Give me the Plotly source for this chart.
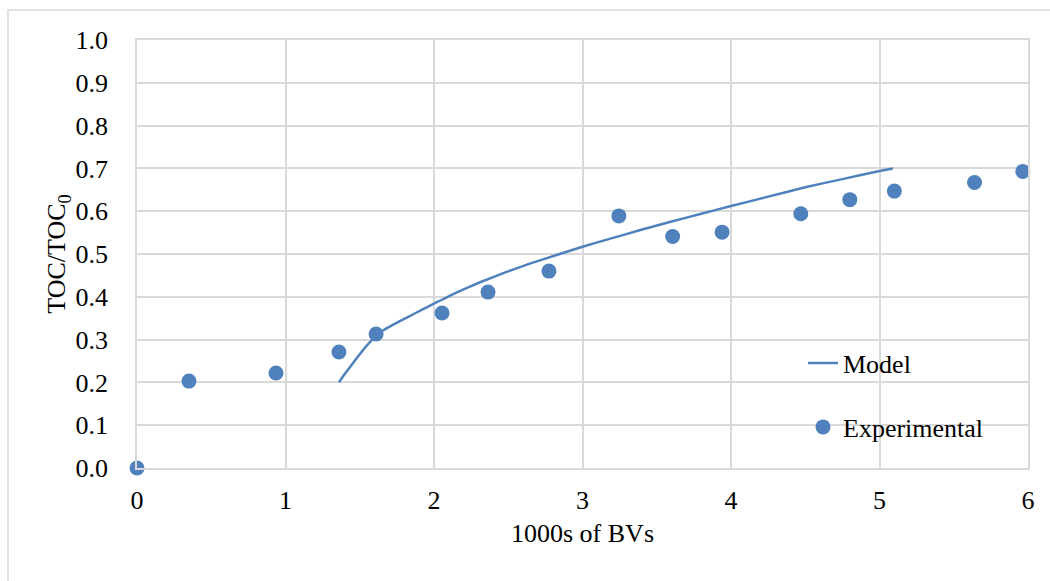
import plotly.graph_objects as go

# Experimental data
exp_x = [0.0, 0.35, 0.936, 1.36, 1.61, 2.054, 2.364, 2.774, 3.245, 3.607, 3.94, 4.47, 4.80, 5.10, 5.64, 5.965]
exp_y = [0.0, 0.203, 0.222, 0.271, 0.313, 0.362, 0.411, 0.460, 0.589, 0.541, 0.551, 0.594, 0.627, 0.647, 0.667, 0.693]

# Model curve
model_x = [1.36, 1.40, 1.45, 1.50, 1.55, 1.60, 1.65, 1.72, 1.82, 1.92, 2.0, 2.15, 2.31, 2.48, 2.65, 2.82,
           3.0, 3.2, 3.39, 3.6, 3.8, 4.0, 4.25, 4.5, 4.75, 5.0, 5.09]
model_y = [0.200, 0.220, 0.243, 0.266, 0.287, 0.305, 0.320, 0.334, 0.352, 0.370, 0.384, 0.410, 0.434, 0.457,
           0.478, 0.497, 0.517, 0.537, 0.556, 0.576, 0.594, 0.612, 0.634, 0.656, 0.675, 0.694, 0.700]

x_ticks = [0, 1, 2, 3, 4, 5, 6]
y_ticks = [0.0, 0.1, 0.2, 0.3, 0.4, 0.5, 0.6, 0.7, 0.8, 0.9, 1.0]

BLUE = "#4f81bd"
GRID = "#d9d9d9"
FONT = "Liberation Serif"
FS = 26

fig = go.Figure()
fig.add_trace(go.Scatter(
    x=model_x, y=model_y, mode="lines", name="Model",
    line=dict(color=BLUE, width=2.5, shape="spline", smoothing=0.3),
    legend="legend", showlegend=True,
))
fig.add_trace(go.Scatter(
    x=exp_x, y=exp_y, mode="markers", name="Experimental",
    marker=dict(color=BLUE, size=15),
    legend="legend2", showlegend=True, cliponaxis=False,
))

W, H = 1050, 581
L, R, T, B = 137, 22, 40, 113
pw, ph = W - L - R, H - T - B

def px_x(p):
    return (p - L) / pw

def px_y(p):
    return (H - B - p) / ph

fig.update_layout(
    width=W, height=H,
    margin=dict(l=L, r=R, t=T, b=B),
    paper_bgcolor="white", plot_bgcolor="white",
    showlegend=True,
    font=dict(family=FONT, size=FS, color="black"),
    xaxis=dict(
        range=[0, 6], tickvals=x_ticks, ticktext=[str(v) for v in x_ticks],
        showgrid=True, gridcolor=GRID, gridwidth=1.5,
        showline=True, linecolor=GRID, linewidth=1.5, mirror=True,
        zeroline=False, ticks="", ticklabelstandoff=8,
        title=dict(text="1000s of BVs", font=dict(size=FS), standoff=10),
        tickfont=dict(size=FS),
    ),
    yaxis=dict(
        range=[0, 1.0], tickvals=y_ticks, ticktext=[f"{v:.1f}" for v in y_ticks],
        showgrid=True, gridcolor=GRID, gridwidth=1.5,
        showline=True, linecolor=GRID, linewidth=1.5, mirror=True,
        zeroline=False, ticks="", ticklabelstandoff=22,
        title=dict(text="TOC/TOC<sub>0</sub>", font=dict(size=FS), standoff=2),
        tickfont=dict(size=FS),
    ),
    legend=dict(
        x=px_x(803), y=px_y(363), xanchor="left", yanchor="middle",
        bgcolor="rgba(0,0,0,0)", font=dict(size=FS),
    ),
    legend2=dict(
        x=px_x(803), y=px_y(427), xanchor="left", yanchor="middle",
        bgcolor="rgba(0,0,0,0)", font=dict(size=FS),
    ),
    shapes=[dict(
        type="rect", xref="paper", yref="paper",
        x0=px_x(8), x1=px_x(1070), y0=px_y(600), y1=px_y(10),
        line=dict(color=GRID, width=1.5), fillcolor="rgba(0,0,0,0)", layer="below",
    )],
)

fig.write_html("out.html")
